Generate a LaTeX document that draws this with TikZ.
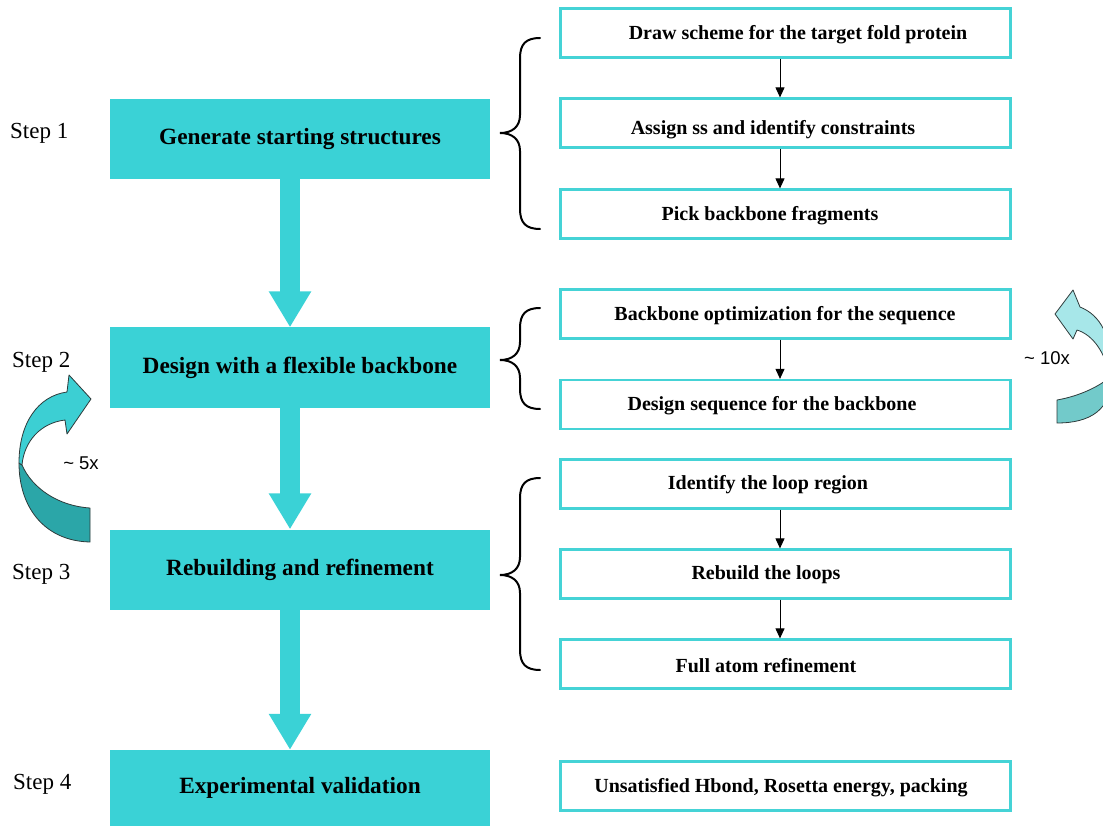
\documentclass[tikz,border=0pt]{standalone}
\usepackage{fontspec}
\setmainfont{Liberation Serif}
\newfontfamily\labelsans{Liberation Sans}
\usetikzlibrary{arrows.meta}

\definecolor{stepfill}{HTML}{3AD2D6}
\definecolor{boxline}{HTML}{45D3D6}
\definecolor{loopA}{HTML}{3CCFD3}
\definecolor{loopB}{HTML}{2BA6A8}
\definecolor{loopC}{HTML}{A7E7E9}
\definecolor{loopD}{HTML}{72CACA}
\definecolor{loopline}{HTML}{2E3B3B}

\tikzset{
  mainbox/.style={fill=stepfill, inner sep=0pt, minimum width=380pt, minimum height=80pt,
    font=\fontsize{23.3}{26}\selectfont\bfseries},
  rbox/.style={draw=boxline, line width=2.2pt, inner sep=0pt, minimum width=450pt, minimum height=49pt},
  rtext/.style={inner sep=0pt, yshift=-2pt, font=\fontsize{20}{23}\selectfont\bfseries},
  steplabel/.style={anchor=base west, inner sep=0pt, font=\fontsize{23}{26}\selectfont},
  bigarrow/.style={draw=stepfill, line width=20pt, -{Triangle[width=40pt,length=36pt]}},
  smallarrow/.style={draw=black, line width=1pt, -{Triangle[width=9pt,length=10pt]}},
  bracepath/.style={draw=black, line width=2pt, line cap=round},
  loopedge/.style={draw=loopline, line width=0.8pt, line join=round},
  looptext/.style={inner sep=0pt, font=\labelsans\fontsize{18.5}{21}\selectfont}
}

% curly brace: top end, tip, bottom end (y values)
\newcommand{\stagebrace}[3]{%
  \draw[bracepath] (540,#1) .. controls (526,#1) and (520,#1+6) .. (520,#1+20)
    -- (520,#2-18) .. controls (520,#2-6) and (512,#2) .. (500,#2)
    .. controls (512,#2) and (520,#2+6) .. (520,#2+18)
    -- (520,#3-20) .. controls (520,#3-6) and (526,#3) .. (540,#3);}

\begin{document}
\begin{tikzpicture}[x=1pt,y=-1pt]
\useasboundingbox (0,0) rectangle (1103,826);
\clip (0,0) rectangle (1103,826);

% step labels
\node[steplabel] (s1) at (10,139) {Step 1};
\node[steplabel] (s2) at (12,367) {Step 2};
\node[steplabel] (s3) at (12,579) {Step 3};
\node[steplabel] (s4) at (13,789) {Step 4};

% main pipeline
\node[mainbox] (m1) at (300,139) {Generate starting structures};
\node[mainbox] (m2) at (300,367.5) {Design with a flexible backbone};
\node[mainbox] (m3) at (300,569.5) {Rebuilding and refinement};
\node[mainbox, minimum height=76pt] (m4) at (300,788) {Experimental validation};

\draw[bigarrow] ([xshift=-10pt]m1.south) -- ([xshift=-10pt]m2.north);
\draw[bigarrow] ([xshift=-10pt]m2.south) -- ([xshift=-10pt]m3.north);
\draw[bigarrow] ([xshift=-10pt]m3.south) -- ([xshift=-10pt]m4.north);

% detail boxes
\node[rbox] (r1) at (785.5,33) {};
\node[rbox] (r2) at (785.5,123) {};
\node[rbox] (r3) at (785.5,214) {};
\node[rbox] (r4) at (785.5,314) {};
\node[rbox] (r5) at (785.5,404.5) {};
\node[rbox] (r6) at (785.5,484) {};
\node[rbox] (r7) at (785.5,574) {};
\node[rbox] (r8) at (785.5,664) {};
\node[rbox] (r9) at (785.5,786) {};

\node[rtext] (t1) at (798,33) {Draw scheme for the target fold protein};
\node[rtext] (t2) at (773,128) {Assign ss and identify constraints};
\node[rtext] (t3) at (770,214) {Pick backbone fragments};
\node[rtext] (t4) at (785,314) {Backbone optimization for the sequence};
\node[rtext] (t5) at (772,404) {Design sequence for the backbone};
\node[rtext] (t6) at (768,483) {Identify the loop region};
\node[rtext] (t7) at (766,573) {Rebuild the loops};
\node[rtext] (t8) at (766,664) {Full atom refinement};
\node[rtext] (t9) at (781,786) {Unsatisfied Hbond, Rosetta energy, packing};

\draw[smallarrow] ([xshift=-5.5pt]r1.south) -- ([xshift=-5.5pt]r2.north);
\draw[smallarrow] ([xshift=-5.5pt]r2.south) -- ([xshift=-5.5pt]r3.north);
\draw[smallarrow] ([xshift=-5.5pt]r4.south) -- ([xshift=-5.5pt]r5.north);
\draw[smallarrow] ([xshift=-5.5pt]r6.south) -- ([xshift=-5.5pt]r7.north);
\draw[smallarrow] ([xshift=-5.5pt]r7.south) -- ([xshift=-5.5pt]r8.north);

% braces grouping the detail boxes
\stagebrace{38}{133}{229}
\stagebrace{308}{360}{409}
\stagebrace{478}{575}{670}

% ~5x loop arrow (left)
\filldraw[loopedge, fill=loopB]
  (19,463) .. controls (19,508) and (45,541) .. (90,542) -- (90,508)
  .. controls (58,506) and (32,488) .. (22,465) -- cycle;
\filldraw[loopedge, fill=loopA]
  (19,463) .. controls (19,423) and (38,396) .. (67,392) -- (69,375) -- (91,399)
  -- (67,434) -- (65,420) .. controls (40,423) and (24,442) .. (22,465) -- cycle;
\node[looptext] (l5) at (81,463) {\textasciitilde{} 5x};

% ~10x loop arrow (right)
\filldraw[loopedge, fill=loopD]
  (1112,375) .. controls (1112,410) and (1090,423) .. (1057,423) -- (1057,400)
  .. controls (1080,396) and (1100,386) .. (1110,377) -- cycle;
\filldraw[loopedge, fill=loopC]
  (1112,375) .. controls (1112,335) and (1100,315) .. (1080,307) -- (1073,290) -- (1055,314)
  -- (1073,339) -- (1077,330) .. controls (1093,335) and (1105,352) .. (1110,377) -- cycle;
\node[looptext] (l10) at (1047,358) {\textasciitilde{} 10x};

\end{tikzpicture}
\end{document}
